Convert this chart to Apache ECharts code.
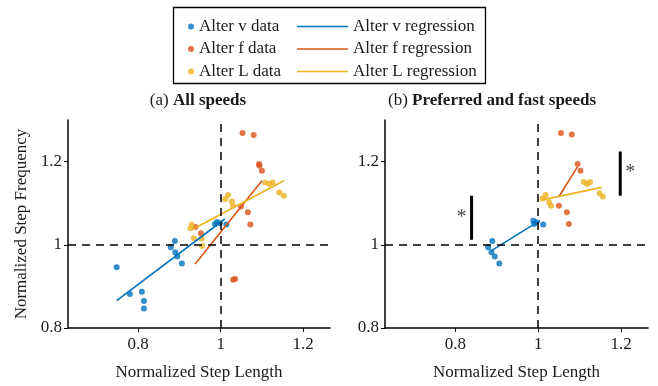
<!DOCTYPE html>
<html>
<head>
<meta charset="utf-8">
<script src="https://cdn.jsdelivr.net/npm/echarts@6/dist/echarts.min.js"></script>
<style>
html, body { margin: 0; padding: 0; background: #fff; }
#main { width: 658px; height: 386px; }
</style>
</head>
<body>
<div id="main"></div>
<script>
// panel (a): all speeds
var vDataA = [[0.748,0.946],[0.780,0.882],[0.809,0.887],[0.814,0.865],[0.814,0.847],[0.879,0.994],[0.889,1.009],
  [0.890,0.982],[0.895,0.972],[0.906,0.955],[0.986,1.050],[0.991,1.055],[0.998,1.052],[1.014,1.049]];
var fDataA = [[1.053,1.269],[1.080,1.264],[1.093,1.194],[1.094,1.190],[1.100,1.178],[1.049,1.092],[1.066,1.078],
  [1.072,1.049],[1.030,0.916],[1.035,0.918],[0.939,1.043],[0.952,1.028]];
var LDataA = [[0.930,1.048],[0.927,1.040],[0.935,1.016],[0.954,1.015],[0.955,0.997],[1.011,1.110],[1.018,1.120],
  [1.027,1.104],[1.030,1.094],[1.108,1.150],[1.118,1.146],[1.126,1.150],[1.142,1.126],[1.153,1.118]];
var vFitA = [[0.748,0.866],[1.010,1.062]];
var fFitA = [[0.938,0.954],[1.100,1.154]];
var LFitA = [[0.930,1.036],[1.153,1.154]];

// panel (b): preferred and fast speeds
var vDataB = [[0.889,1.009],[0.879,0.994],[0.887,0.982],[0.895,0.972],[0.906,0.955],[0.988,1.058],[0.990,1.050],
  [0.996,1.054],[1.012,1.049]];
var fDataB = [[1.055,1.269],[1.081,1.265],[1.095,1.194],[1.102,1.178],[1.050,1.094],[1.069,1.078],[1.074,1.050]];
var LDataB = [[1.010,1.111],[1.018,1.120],[1.026,1.102],[1.031,1.094],[1.110,1.151],[1.118,1.146],[1.125,1.151],
  [1.148,1.124],[1.156,1.116]];
var vFitB = [[0.887,0.986],[1.004,1.058]];
var fFitB = [[1.050,1.116],[1.095,1.188]];
var LFitB = [[1.010,1.108],[1.153,1.138]];

// significance bars and stars (panel b)
var sigBar1 = [[0.839,1.012],[0.839,1.118]];
var sigBar2 = [[1.198,1.118],[1.198,1.224]];
var sigStars = [[0.815,1.066],[1.222,1.172]];

var xTicks = [0.8, 1, 1.2];
var yTicks = [0.8, 1, 1.2];
var refX = 1, refY = 1;

var names = ['Alter v data', 'Alter f data', 'Alter L data'];
var fitNames = ['Alter v regression', 'Alter f regression', 'Alter L regression'];
var colors = ['#0072BD', '#D95319', '#EDB120'];
var font = '"Liberation Serif", "Times New Roman", serif';
var ink = '#1a1a1a';

function xAxisFor(i) {
  return {
    type: 'value', gridIndex: i, min: 0.63, max: 1.265,
    name: 'Normalized Step Length', nameLocation: 'middle', nameGap: 36,
    nameTextStyle: { fontFamily: font, fontSize: 17, color: ink },
    axisLine: { lineStyle: { color: '#000', width: 1.5 } },
    axisTick: { customValues: xTicks, length: 4, lineStyle: { color: '#000' } },
    axisLabel: { customValues: xTicks, margin: 8, fontFamily: font, fontSize: 17, color: ink },
    splitLine: { show: false }
  };
}
function yAxisFor(i) {
  return {
    type: 'value', gridIndex: i, min: 0.8, max: 1.3,
    name: i === 0 ? 'Normalized Step Frequency' : '', nameLocation: 'middle', nameGap: 38,
    nameTextStyle: { fontFamily: font, fontSize: 17, color: ink },
    axisLine: { show: true, lineStyle: { color: '#000', width: 1.5 } },
    axisTick: { show: true, customValues: yTicks, length: 4, lineStyle: { color: '#000' } },
    axisLabel: { customValues: yTicks, margin: 6, fontFamily: font, fontSize: 17, color: ink },
    splitLine: { show: false }
  };
}

function panelSeries(i, data, fits) {
  var out = [];
  for (var k = 0; k < 3; k++) {
    var s = {
      name: names[k], type: 'scatter', xAxisIndex: i, yAxisIndex: i,
      data: data[k], symbolSize: 6, itemStyle: { color: colors[k] }, z: 3
    };
    if (k === 0) {
      s.markLine = {
        silent: true, symbol: 'none', label: { show: false },
        lineStyle: { color: '#000', type: [8, 6], width: 1.5 },
        data: [{ xAxis: refX }, { yAxis: refY }]
      };
    }
    out.push(s);
  }
  for (var k = 0; k < 3; k++) {
    out.push({
      name: fitNames[k], type: 'line', xAxisIndex: i, yAxisIndex: i,
      data: fits[k], showSymbol: false, symbol: 'none',
      lineStyle: { color: colors[k], width: 1.6 }, itemStyle: { color: colors[k] }, z: 4
    });
  }
  return out;
}

var series = [].concat(
  panelSeries(0, [vDataA, fDataA, LDataA], [vFitA, fFitA, LFitA]),
  panelSeries(1, [vDataB, fDataB, LDataB], [vFitB, fFitB, LFitB])
);
[sigBar1, sigBar2].forEach(function (bar) {
  series.push({
    type: 'line', xAxisIndex: 1, yAxisIndex: 1, data: bar, symbol: 'none', silent: true,
    lineStyle: { color: '#000', width: 3 }
  });
});
series.push({
  type: 'scatter', xAxisIndex: 1, yAxisIndex: 1, data: sigStars, symbolSize: 1, silent: true,
  itemStyle: { color: 'rgba(0,0,0,0)' },
  label: { show: true, position: 'inside', formatter: '*', fontFamily: font, fontSize: 20, color: ink }
});

var legendText = { fontFamily: font, fontSize: 17, color: ink, lineHeight: 17 };

var option = {
  animation: false,
  backgroundColor: '#fff',
  grid: [
    { left: 68, top: 120, width: 262, height: 208 },
    { left: 385, top: 120, width: 263, height: 208 }
  ],
  xAxis: [xAxisFor(0), xAxisFor(1)],
  yAxis: [yAxisFor(0), yAxisFor(1)],
  legend: [
    { data: names, orient: 'vertical', left: 183, top: 13, itemGap: 5.5, icon: 'circle',
      itemWidth: 6, itemHeight: 6, textStyle: legendText, selectedMode: false },
    { data: fitNames, orient: 'vertical', left: 292, top: 13, itemGap: 5.5, icon: 'rect',
      itemWidth: 51, itemHeight: 1.6, textStyle: legendText, selectedMode: false }
  ],
  graphic: [
    { type: 'rect', left: 171, top: 5, shape: { width: 312, height: 76 },
      style: { fill: 'none', stroke: '#000', lineWidth: 1.3 }, silent: true },
    { type: 'text', x: 198, y: 101, silent: true,
      style: { text: '{n|(a) }{b|All speeds}', align: 'center', verticalAlign: 'middle',
        rich: { n: { fontFamily: font, fontSize: 17, fill: ink }, b: { fontFamily: font, fontSize: 17, fontWeight: 'bold', fill: ink } } } },
    { type: 'text', x: 492, y: 101, silent: true,
      style: { text: '{n|(b) }{b|Preferred and fast speeds}', align: 'center', verticalAlign: 'middle',
        rich: { n: { fontFamily: font, fontSize: 17, fill: ink }, b: { fontFamily: font, fontSize: 17, fontWeight: 'bold', fill: ink } } } }
  ],
  series: series
};

var myChart = echarts.init(document.getElementById('main'));
myChart.setOption(option);
</script>
</body>
</html>
